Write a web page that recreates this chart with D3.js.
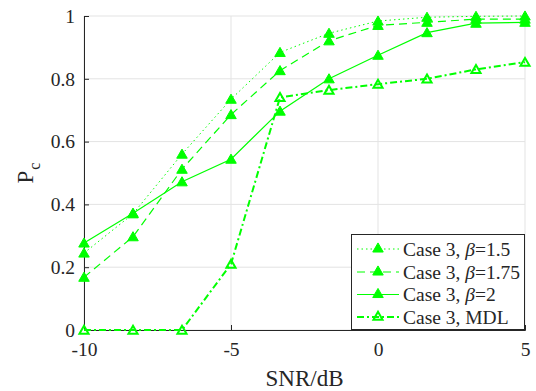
<!DOCTYPE html>
<html><head><meta charset="utf-8">
<script src="https://cdn.jsdelivr.net/npm/d3@7"></script>
</head><body style="margin:0;background:#fff">
<script>
const snr = [-10, -8.333, -6.667, -5, -3.333, -1.667, 0, 1.667, 3.333, 5];
const beta15 = [0.245, 0.37, 0.56, 0.735, 0.884, 0.945, 0.984, 0.996, 0.999, 1.0];
const beta175 = [0.168, 0.297, 0.512, 0.686, 0.826, 0.921, 0.970, 0.980, 0.990, 0.990];
const beta2 = [0.277, 0.372, 0.472, 0.544, 0.697, 0.80, 0.875, 0.947, 0.977, 0.980];
const mdl = [0, 0, 0, 0.21, 0.741, 0.764, 0.783, 0.80, 0.83, 0.853];
const xTicks = [-10, -5, 0, 5];
const yTicks = [0, 0.2, 0.4, 0.6, 0.8, 1];
const xTickLabels = ["-10", "-5", "0", "5"];
const yTickLabels = ["0", "0.2", "0.4", "0.6", "0.8", "1"];
const seriesNames = ["Case 3, β=1.5", "Case 3, β=1.75", "Case 3, β=2", "Case 3, MDL"];

const FONT = "Liberation Serif";
const W = 536, H = 391;
const green = "#00ff00";
const svg = d3.select("body").append("svg").attr("width", W).attr("height", H)
  .style("display", "block").style("font-family", FONT);
const x = d3.scaleLinear().domain([-10, 5]).range([84, 525]);
const y = d3.scaleLinear().domain([0, 1]).range([330, 16]);

// grid
svg.append("g").selectAll("line").data(xTicks).join("line")
  .attr("x1", d => x(d)).attr("x2", d => x(d)).attr("y1", y(0)).attr("y2", y(1))
  .attr("stroke", "#e3e3e3").attr("stroke-width", 1);
svg.append("g").selectAll("line").data(yTicks).join("line")
  .attr("y1", d => y(d)).attr("y2", d => y(d)).attr("x1", x(-10)).attr("x2", x(5))
  .attr("stroke", "#e3e3e3").attr("stroke-width", 1);

// axes
const xAxis = d3.axisBottom(x).tickValues(xTicks).tickSize(-5).tickPadding(12)
  .tickFormat((d, i) => xTickLabels[i]);
const yAxis = d3.axisLeft(y).tickValues(yTicks).tickSize(-5).tickPadding(9)
  .tickFormat((d, i) => yTickLabels[i]);
const gx = svg.append("g").attr("transform", `translate(0,${y(0)})`).call(xAxis);
const gy = svg.append("g").attr("transform", `translate(${x(-10)},0)`).call(yAxis);
[gx, gy].forEach(g => {
  g.attr("font-family", FONT).style("font-family", FONT);
  g.select(".domain").attr("stroke", "#262626");
  g.selectAll(".tick line").attr("stroke", "#262626");
  g.selectAll(".tick text").attr("font-size", 19.5).attr("fill", "#262626").style("font-family", FONT);
});
gx.selectAll(".tick text").attr("dy", "0.71em");

// labels
svg.append("text").attr("x", (x(-10) + x(5)) / 2).attr("y", 386).attr("text-anchor", "middle")
  .attr("font-size", 23).attr("fill", "#262626").style("font-family", FONT).text("SNR/dB");
const yl = svg.append("text").attr("transform", `translate(33,${(y(0)+y(1))/2}) rotate(-90)`)
  .attr("text-anchor", "middle").attr("font-size", 23).attr("fill", "#262626").style("font-family", FONT);
yl.append("tspan").text("P");
yl.append("tspan").attr("font-size", 16).attr("dy", 7).attr("dx", 1).text("c");

// series
const styles = [
  {data: beta15, dash: "1.5,3", width: 1, open: false},
  {data: beta175, dash: "8,5", width: 1.2, open: false},
  {data: beta2, dash: null, width: 1.2, open: false},
  {data: mdl, dash: "7,3,2,3", width: 2, open: true}
];
const line = d3.line().x((d, i) => x(snr[i])).y(d => y(d));
const tri = d3.symbol().type(d3.symbolTriangle).size(48);
const triOpen = d3.symbol().type(d3.symbolTriangle).size(36);

styles.forEach(s => {
  svg.append("path").datum(s.data).attr("d", line).attr("fill", "none")
    .attr("stroke", green).attr("stroke-width", s.width)
    .attr("stroke-dasharray", s.dash);
});
styles.forEach(s => {
  svg.append("g").selectAll("path").data(s.data).join("path")
    .attr("transform", (d, i) => `translate(${x(snr[i])},${y(d)+1})`)
    .attr("d", s.open ? triOpen : tri)
    .attr("fill", s.open ? "none" : green)
    .attr("stroke", green).attr("stroke-width", s.open ? 2 : 1);
});

// legend
const lg = svg.append("g");
lg.append("rect").attr("x", 351.5).attr("y", 234.5).attr("width", 173).attr("height", 95)
  .attr("fill", "#fff").attr("stroke", "#262626").attr("stroke-width", 1);
const rows = [249, 272, 294.5, 317];
styles.forEach((s, i) => {
  const yy = rows[i];
  lg.append("line").attr("x1", 357).attr("x2", 399).attr("y1", yy).attr("y2", yy)
    .attr("stroke", green).attr("stroke-width", s.width).attr("stroke-dasharray", s.dash);
  lg.append("path").attr("transform", `translate(378,${yy})`).attr("d", s.open ? triOpen : tri)
    .attr("fill", s.open ? "none" : green).attr("stroke", green).attr("stroke-width", s.open ? 2 : 1);
  const t = lg.append("text").attr("x", 403).attr("y", yy + 6.5).attr("font-size", 19.5)
    .attr("fill", "#262626").style("font-family", FONT);
  const name = seriesNames[i];
  const bi = name.indexOf("β");
  if (bi >= 0) {
    t.append("tspan").text(name.slice(0, bi));
    t.append("tspan").attr("font-style", "italic").text("β");
    t.append("tspan").text(name.slice(bi + 1));
  } else t.text(name);
});
</script>
</body></html>
